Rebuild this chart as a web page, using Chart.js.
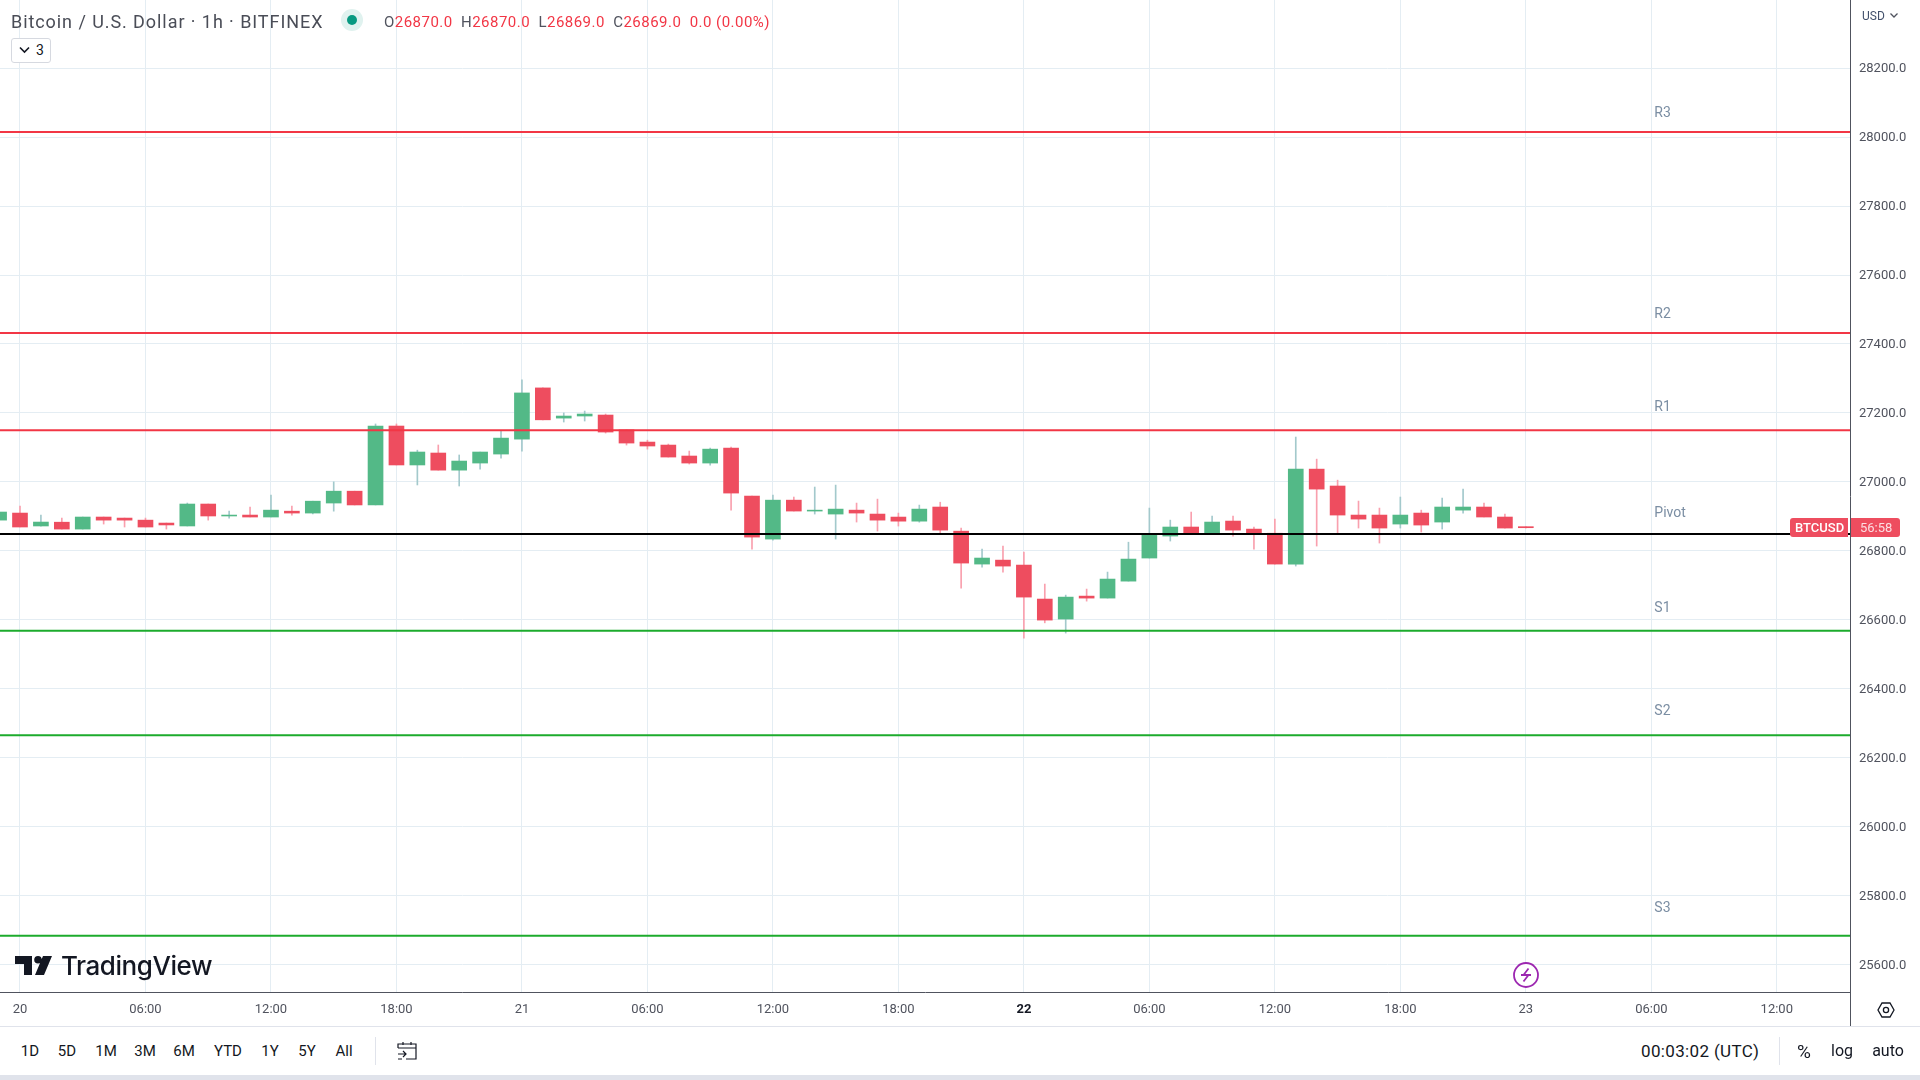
<!DOCTYPE html>
<html>
<head>
<meta charset="utf-8">
<title>BTCUSD 1h</title>
<script src="https://cdn.jsdelivr.net/npm/chart.js@4"></script>
<style>
  html, body { margin: 0; padding: 0; background: #fff; overflow: hidden; }
  body { width: 1920px; height: 1080px; position: relative; font-family: Roboto, sans-serif; }
  canvas { position: absolute; left: 0; top: 0; }
  .t { position: absolute; white-space: nowrap; line-height: 1; }
  .c { transform: translateX(-50%); }
  .red { color: #f23645; }
  .grey { color: #50535e; }
  .btn { font-size: 15px; color: #131722; top: 1044px; }
  .box { position: absolute; }
  svg { position: absolute; overflow: visible; }
</style>
</head>
<body>
<canvas id="chart" width="1920" height="1026"></canvas>

<div class="t" style="left:11px;top:13px;font-size:18px;color:#4a4d57;letter-spacing:.93px">Bitcoin / U.S. Dollar · 1h · BITFINEX</div>
<div class="box" style="left:341px;top:9px;width:22px;height:22px;border-radius:50%;background:#e0f2ef"></div>
<div class="box" style="left:347px;top:15px;width:10px;height:10px;border-radius:50%;background:#089981"></div>
<div class="t" style="left:384px;top:15px;font-size:15px;letter-spacing:.47px"><span class="grey">O</span><span class="red">26870.0</span> <span class="grey">&nbsp;H</span><span class="red">26870.0</span> <span class="grey">&nbsp;L</span><span class="red">26869.0</span> <span class="grey">&nbsp;C</span><span class="red">26869.0</span> <span class="red">&nbsp;0.0 (0.00%)</span></div>
<div class="box" style="left:11px;top:38px;width:38px;height:23px;border:1px solid #d6d9e0;border-radius:3px;background:#fff"></div>
<svg style="left:19px;top:46px" width="11" height="8"><path d="M1 1.5 L5.5 6 L10 1.5" fill="none" stroke="#131722" stroke-width="1.6"/></svg>
<div class="t" style="left:36px;top:43px;font-size:14px;color:#131722">3</div>

<div class="t" style="left:1862px;top:10px;font-size:12px;color:#42506b">USD</div>
<svg style="left:1890px;top:13px" width="8" height="5"><path d="M.5 .5 L4 4 L7.5 .5" fill="none" stroke="#50535e" stroke-width="1.3"/></svg>

<svg style="left:15px;top:956px" width="38" height="19" viewBox="0 0 38 19"><path d="M0 0H17V19H9V8H0Z M23 0A3.8 3.8 0 1 1 23 7.6A3.8 3.8 0 1 1 23 0Z M28 0H37L29 19H20Z" fill="#131722"/></svg>
<div class="t" style="left:61px;top:953px;font-size:26px;font-weight:500;color:#131722;font-family:Inter,sans-serif;letter-spacing:-.45px">TradingView</div>

<div class="box" style="left:1790px;top:518px;width:58px;height:19px;background:#ee4d5f;border-radius:3px 0 0 3px"></div>
<div class="box" style="left:1851px;top:518px;width:49px;height:19px;background:#ee4d5f;border-radius:0 3px 3px 0"></div>
<div class="t" style="left:1795px;top:521px;font-size:13px;font-weight:500;color:#fff">BTCUSD</div>
<div class="t" style="left:1860px;top:521px;font-size:13px;color:#fcdde1">56:58</div>

<svg style="left:1513px;top:962px" width="26" height="26" viewBox="0 0 26 26"><circle cx="13" cy="13" r="12" fill="#fff" stroke="#9c27b0" stroke-width="1.8"/><path d="M15.5 6.5 L10.5 13 H15.5 L10.5 19.5 M8 13 H18" fill="none" stroke="#9c27b0" stroke-width="1.8"/></svg>

<div class="box" style="left:1850px;top:992px;width:1px;height:34px;background:#50535e"></div>
<svg style="left:1877px;top:1002px" width="18" height="16" viewBox="0 0 18 16"><path d="M5 1H13L17 8L13 15H5L1 8Z" fill="none" stroke="#131722" stroke-width="1.3"/><circle cx="9" cy="8" r="2.6" fill="none" stroke="#131722" stroke-width="1.3"/></svg>

<div class="box" style="left:0;top:1026px;width:1920px;height:1px;background:#e0e3eb"></div>
<div class="t c btn" style="left:30px">1D</div>
<div class="t c btn" style="left:67px">5D</div>
<div class="t c btn" style="left:106px">1M</div>
<div class="t c btn" style="left:145px">3M</div>
<div class="t c btn" style="left:184px">6M</div>
<div class="t c btn" style="left:228px">YTD</div>
<div class="t c btn" style="left:270px">1Y</div>
<div class="t c btn" style="left:307px">5Y</div>
<div class="t c btn" style="left:344px">All</div>
<div class="box" style="left:375px;top:1037px;width:1px;height:28px;background:#e0e3eb"></div>
<svg style="left:397px;top:1041px" width="20" height="20" viewBox="0 0 20 20"><path d="M1 7V3H19V18H9 M1 7H19 M6 1V4 M14 1V4 M1 13H9 M6 10L9 13L6 16 M1 18H5" fill="none" stroke="#131722" stroke-width="1.2"/></svg>
<div class="t" style="left:1641px;top:1043px;font-size:17px;letter-spacing:.35px;color:#131722">00:03:02 (UTC)</div>
<div class="box" style="left:1779px;top:1037px;width:1px;height:28px;background:#e0e3eb"></div>
<div class="t c" style="left:1804px;top:1042px;font-size:19px;color:#131722">%</div>
<div class="t c" style="left:1842px;top:1043px;font-size:16px;color:#131722">log</div>
<div class="t c" style="left:1888px;top:1043px;font-size:16px;color:#131722">auto</div>
<div class="box" style="left:0;top:1075px;width:1920px;height:5px;background:#e0e3eb"></div>

<script>
// horas contadas a partir de 20/06 00:00, candles de 1h
const firstHour = -1;
const opens = [26889,26909.5,26872,26883,26863,26898,26895,26889,26880.5,26872,26935.7,26901,26903.7,26898,26915,26909.5,26938.6,26973,26933,27162,27049,27083.7,27034,27054.6,27080.7,27124,27272.6,27185,27191,27193.9,27151,27115.5,27106.8,27075,27054.6,27098,26958.8,26834,26947,26915.3,26906.6,26918,26906.6,26897.9,26886,26927,26857,26761.5,26773,26758.6,26660,26602,26668.6,26662.8,26712,26779,26842.8,26869,26848,26886.3,26863,26851,26761.5,27037,26988,26903.7,26903.7,26877.6,26909.5,26883.4,26918,26927,26898,26870];
const highs = [26913,26930,26903.7,26895,26898,26898,26895,26895,26880.5,26938.6,26935.7,26915,26927,26962,26930,26944,27000,26973,27168,27168,27092,27107,27078,27086.6,27147.4,27296,27272.6,27200,27205.5,27196.8,27151,27121,27109.7,27089.4,27098,27101,26958.8,26961.7,26956,26985,26990.7,26938.5,26950,26909.5,26932.7,26941,26866,26805,26813.8,26796.3,26703.5,26671.5,26689,26738.3,26825,26924,26889,26912.4,26900.8,26900.8,26869,26892,27130,27066,27005,26944.3,26924,26956,26918,26953,26979,26938.5,26906.6,26870];
const lows = [26889,26869,26871.8,26863,26863,26877.6,26869,26869,26863,26872,26889,26895,26898,26898,26903.7,26907,26915,26933,26933,27049,26991,27034,26988,27037,27069,27089.4,27180,27173.6,27176.5,27141.6,27106.8,27095,27072,27051.7,27048.8,26918.2,26805,26831,26915.3,26906.6,26834,26883.4,26857.3,26871.8,26883,26851,26691.8,26752.8,26738.3,26546.8,26591,26561.3,26654,26662.8,26712,26779,26828.3,26848,26848,26842.8,26805,26761.5,26755.7,26813.8,26850,26866,26822.5,26866,26854.4,26863,26909.5,26898,26866,26866];
const closes = [26912.5,26869,26883.4,26863,26898,26889,26889,26869,26875,26935.7,26901,26903.7,26898,26918,26909.5,26944,26973,26933,27162,27049,27086.6,27034,27060.4,27086.6,27127,27258,27180,27191,27196.8,27144.5,27112.6,27104,27072,27054.6,27095,26967.5,26839.8,26947,26915.3,26918,26921,26909.5,26889,26886,26921,26860,26764.4,26779,26755.7,26665.7,26599,26665.7,26662.8,26718,26776,26845.7,26869,26848,26883.4,26860,26851.5,26761.5,27037,26979,26903.7,26892,26866,26903.7,26874.7,26927,26927,26898,26866,26867];

const levelNames = ['R3', 'R2', 'R1', 'Pivot', 'S1', 'S2', 'S3'];
const levelValues = [28015, 27432, 27150, 26848.5, 26568, 26265, 25683];
const levelColors = ['#f23645', '#f23645', '#f23645', '#000000', '#1cab2c', '#1cab2c', '#1cab2c'];
const levelLabelValues = [28068, 27485, 27215, 26908, 26634, 26333, 25761];

const xTickHours = [0, 6, 12, 18, 24, 30, 36, 42, 48, 54, 60, 66, 72, 78, 84];
const xTickLabels = ['20', '06:00', '12:00', '18:00', '21', '06:00', '12:00', '18:00', '22', '06:00', '12:00', '18:00', '23', '06:00', '12:00'];

const GREEN = '#53b987';
const RED = '#ee4d5f';
const WICK_GREEN = '#a3c9cc';
const WICK_RED = '#f9a0ae';

const hours = opens.map((_, i) => firstHour + i);
const isUp = i => closes[i] >= opens[i];

// nomes dos níveis (R3, Pivot...) ficam presos à escala de preço
const levelLabelPlugin = {
    id: 'levelLabels',
    afterDatasetsDraw(chart) {
        const { ctx, scales } = chart;
        ctx.save();
        ctx.font = '14px Roboto, sans-serif';
        ctx.fillStyle = '#7b8ea3';
        ctx.textBaseline = 'middle';
        levelNames.forEach((name, i) => {
            ctx.fillText(name, scales.x.getPixelForValue(78) + 3, scales.y.getPixelForValue(levelLabelValues[i]));
        });
        ctx.restore();
    }
};

const levelDatasets = levelNames.map((name, i) => ({
    type: 'line',
    label: name,
    data: [{ x: -1, y: levelValues[i] }, { x: 88, y: levelValues[i] }],
    borderColor: levelColors[i],
    borderWidth: 2,
    pointRadius: 0,
    order: 0
}));

new Chart(document.getElementById('chart'), {
    type: 'bar',
    data: {
        datasets: [
            {
                label: 'Corpo',
                data: hours.map((h, i) => ({ x: h, y: [opens[i], closes[i]] })),
                backgroundColor: hours.map((h, i) => isUp(i) ? GREEN : RED),
                barThickness: 15,
                grouped: false,
                order: 1
            },
            {
                label: 'Pavio',
                data: hours.map((h, i) => ({ x: h, y: [lows[i], highs[i]] })),
                backgroundColor: hours.map((h, i) => isUp(i) ? WICK_GREEN : WICK_RED),
                barThickness: 1,
                grouped: false,
                order: 2
            },
            ...levelDatasets
        ]
    },
    plugins: [levelLabelPlugin],
    options: {
        responsive: false,
        animation: false,
        layout: { padding: 0 },
        plugins: { legend: { display: false }, tooltip: { enabled: false } },
        scales: {
            x: {
                type: 'linear',
                offset: false,
                min: -0.956,
                max: 87.5,
                afterFit(scale) {
                    scale.height = 34;
                    scale.paddingLeft = 0;
                    scale.paddingRight = 0;
                },
                afterBuildTicks(scale) { scale.ticks = xTickHours.map(value => ({ value })); },
                grid: { color: '#e4edf3', drawTicks: false, offset: false },
                border: { color: '#50535e', width: 1 },
                ticks: {
                    autoSkip: false,
                    maxRotation: 0,
                    padding: 10,
                    color: ctx => ctx.tick.value === 48 ? '#131722' : '#50535e',
                    font: ctx => ({ family: 'Roboto', size: 13, weight: ctx.tick && ctx.tick.value === 48 ? 'bold' : 'normal' }),
                    callback: value => xTickLabels[xTickHours.indexOf(value)]
                }
            },
            y: {
                position: 'right',
                min: 25520,
                max: 28398,
                afterFit(scale) {
                    scale.width = 70;
                    scale.paddingTop = 0;
                    scale.paddingBottom = 0;
                },
                grid: { color: '#e4edf3', drawTicks: false },
                border: { color: '#50535e', width: 1 },
                ticks: {
                    stepSize: 200,
                    includeBounds: false,
                    padding: 9,
                    labelOffset: 1,
                    color: '#50535e',
                    font: { family: 'Roboto', size: 13 },
                    callback: value => value.toFixed(1)
                }
            }
        }
    }
});
</script>
</body>
</html>
